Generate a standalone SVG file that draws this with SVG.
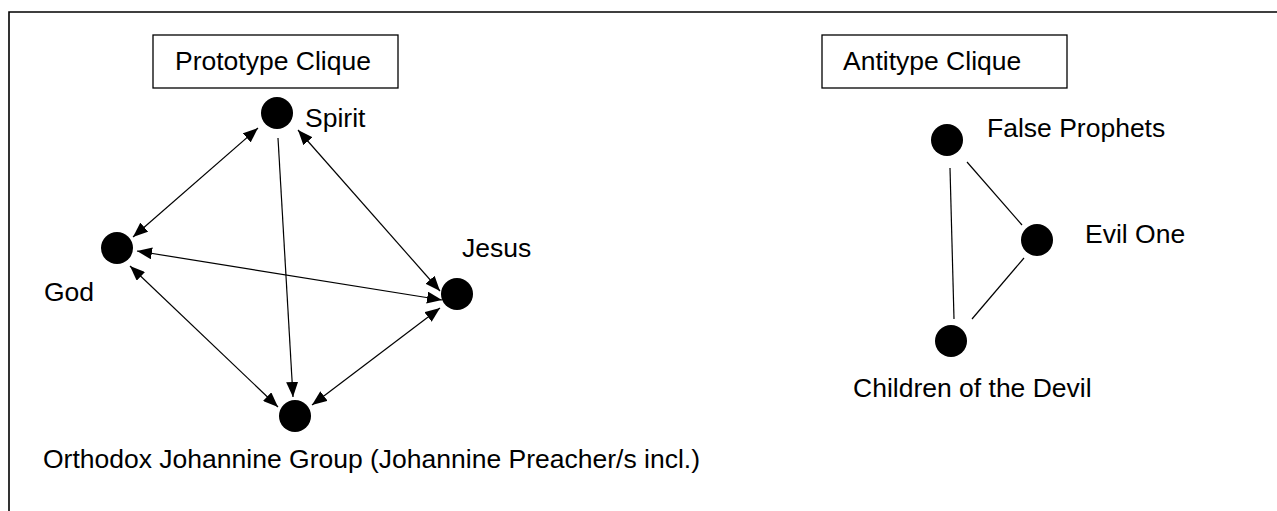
<svg xmlns="http://www.w3.org/2000/svg" width="1277" height="511" viewBox="0 0 1277 511">
<style>
text{font-family:"Liberation Sans",Arial,sans-serif;font-size:26.5px;fill:#000}
.node{fill:#000}
.e{stroke:#000;stroke-width:1.2;fill:none}
.box{fill:#fff;stroke:#000;stroke-width:1.3}
</style>
<defs>
<marker id="ah" viewBox="0 0 15 12" refX="15" refY="6" markerWidth="15" markerHeight="12" markerUnits="userSpaceOnUse" orient="auto-start-reverse">
<path d="M0,0 L15,6 L0,12 z" fill="#000"/>
</marker>
</defs>
<rect x="0" y="0" width="1277" height="511" fill="#fff"/>
<g id="frame">
<path d="M9,511 L9,12 L1277,12" fill="none" stroke="#000" stroke-width="1.6"/>
</g>
<g id="title-prototype">
<rect class="box" x="153" y="35" width="245" height="53"/>
<text x="175" y="70">Prototype Clique</text>
</g>
<g id="title-antitype">
<rect class="box" x="822" y="35" width="245" height="53"/>
<text x="843" y="70">Antitype Clique</text>
</g>
<g id="connectors">
<line class="e" x1="258" y1="128" x2="133" y2="237" marker-start="url(#ah)" marker-end="url(#ah)"/>
<line class="e" x1="278" y1="138" x2="293" y2="397" marker-end="url(#ah)"/>
<line class="e" x1="298" y1="130" x2="440" y2="291" marker-start="url(#ah)" marker-end="url(#ah)"/>
<line class="e" x1="137" y1="251" x2="442" y2="300" marker-start="url(#ah)" marker-end="url(#ah)"/>
<line class="e" x1="130" y1="266" x2="278" y2="407" marker-start="url(#ah)" marker-end="url(#ah)"/>
<line class="e" x1="440" y1="308" x2="312" y2="405" marker-start="url(#ah)" marker-end="url(#ah)"/>
<line class="e" x1="950" y1="168" x2="954" y2="319"/>
<line class="e" x1="967" y1="162" x2="1022" y2="225"/>
<line class="e" x1="1024" y1="258" x2="972" y2="319"/>
</g>
<g id="node-spirit">
<circle class="node" cx="277" cy="113" r="16"/>
<text x="305" y="127">Spirit</text>
</g>
<g id="node-god">
<circle class="node" cx="117" cy="248" r="16"/>
<text x="44" y="301">God</text>
</g>
<g id="node-jesus">
<circle class="node" cx="457" cy="294" r="16"/>
<text x="462" y="257">Jesus</text>
</g>
<g id="node-orthodox">
<circle class="node" cx="295" cy="416" r="16"/>
<text x="43" y="468">Orthodox Johannine Group (Johannine Preacher/s incl.)</text>
</g>
<g id="node-false-prophets">
<circle class="node" cx="947" cy="140" r="16"/>
<text x="987" y="137">False Prophets</text>
</g>
<g id="node-evil-one">
<circle class="node" cx="1037" cy="240" r="16"/>
<text x="1085" y="243">Evil One</text>
</g>
<g id="node-children">
<circle class="node" cx="951" cy="341" r="16"/>
<text x="853" y="397">Children of the Devil</text>
</g>
</svg>
